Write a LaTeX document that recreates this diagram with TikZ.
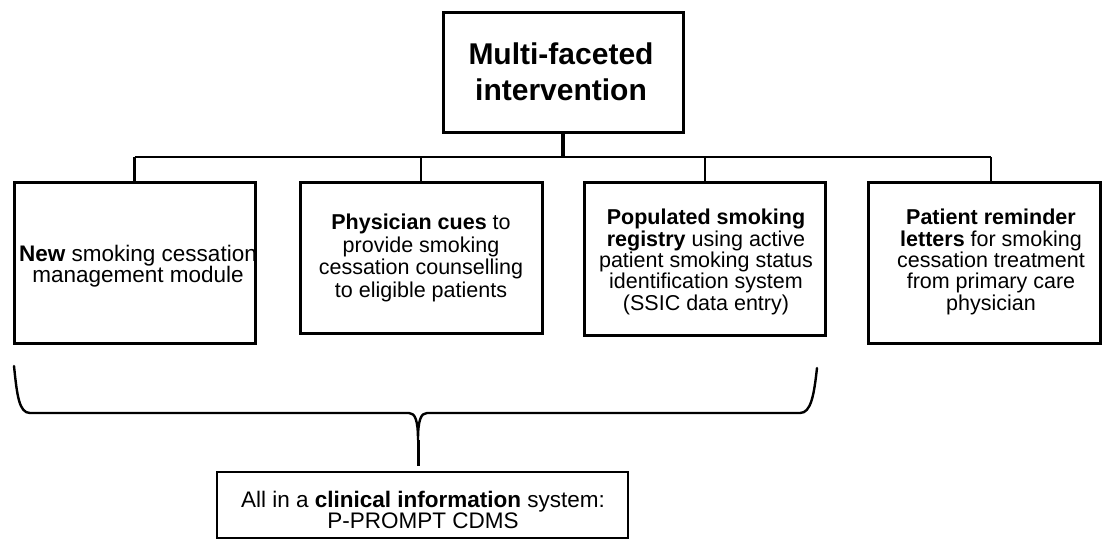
\documentclass[tikz,border=0pt]{standalone}
\usepackage{fontspec}
\setmainfont{Liberation Sans}
\begin{document}
\begin{tikzpicture}[x=1pt,y=-1pt,
  frame/.style={draw, line width=3pt, inner sep=0pt},
  txt/.style={align=center, inner sep=0pt},
  bus/.style={line width=2.2pt},
  trunk/.style={line width=3.5pt},
  curlyline/.style={line width=2.4pt, line join=round, line cap=round}]
\useasboundingbox (0,0) rectangle (1103,539);

% top box
\node[frame, minimum width=240pt, minimum height=120pt] (top) at (563,72) {};
\node[txt, font=\fontsize{30}{36.5}\selectfont\bfseries] (toptxt) at (561,72)
  {Multi-faceted\\intervention};

% the four components
\node[frame, minimum width=241pt, minimum height=161pt] (b1) at (134.5,262.5) {};
\node[frame, minimum width=242pt, minimum height=151pt] (b2) at (421,257.5) {};
\node[frame, minimum width=241pt, minimum height=153pt] (b3) at (704.5,258.5) {};
\node[frame, minimum width=232pt, minimum height=161pt] (b4) at (984,262.5) {};

\node[txt, font=\fontsize{22.5}{21.5}\selectfont] (t1) at (138,266)
  {\textbf{New} smoking cessation\\management module};
\node[txt, font=\fontsize{21.5}{22.5}\selectfont] (t2) at (421,258)
  {\textbf{Physician cues} to\\provide smoking\\cessation counselling\\to eligible patients};
\node[txt, font=\fontsize{21.5}{21.3}\selectfont] (t3) at (706,262)
  {\textbf{Populated smoking}\\\textbf{registry} using active\\patient smoking status\\identification system\\(SSIC data entry)};
\node[txt, font=\fontsize{21.5}{21.3}\selectfont] (t4) at (991,262)
  {\textbf{Patient reminder}\\\textbf{letters} for smoking\\cessation treatment\\from primary care\\physician};

% tree connectors
\coordinate (hub) at (563,157);
\coordinate (j1) at (134.5,157);
\coordinate (j2) at (421,157);
\coordinate (j3) at (705,157);
\coordinate (j4) at (991,157);
\draw[trunk] (top.south) -- (hub);
\draw[bus] (j1) -- (j4);
\draw[bus] (j1) -- (j1 |- b1.north);
\draw[bus] (j2) -- (j2 |- b2.north);
\draw[bus] (j3) -- (j3 |- b3.north);
\draw[bus] (j4) -- (j4 |- b4.north);

% bottom box
\node[frame, line width=2.5pt, minimum width=411pt, minimum height=66pt] (bot) at (422.5,505) {};
\node[txt, font=\fontsize{22.5}{21}\selectfont] (bottxt) at (423,509.5)
  {All in a \textbf{clinical information} system:\\P-PROMPT CDMS};

% curly bracket grouping the first three components
\coordinate (bL) at (14,366);
\coordinate (bR) at (817,368);
\coordinate (tip) at (418,440);
\coordinate (stemEnd) at (418,466);
\draw[curlyline] (bL) .. controls (17,395) and (19,413) .. (30,413) -- (409,413)
  .. controls (415,413) and (418,420) .. (tip)
  .. controls (418,420) and (421,413) .. (427,413) -- (800,413)
  .. controls (811,413) and (814,395) .. (bR);
\draw[trunk, line width=3pt] (tip) -- (stemEnd);
\end{tikzpicture}
\end{document}
